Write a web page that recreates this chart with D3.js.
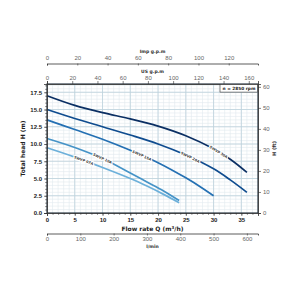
<!DOCTYPE html>
<html><head><meta charset="utf-8">
<script src="https://cdn.jsdelivr.net/npm/d3@7"></script>
<style>
body{margin:0;background:#fff}
svg{display:block;font-family:"DejaVu Sans",sans-serif}
</style></head>
<body><svg id="c" width="300" height="300"></svg>
<script>
// ---- data ----
const seriesNames = ["SWVP 30A","SWVP 20A","SWVP 15A","SWVP 10A","SWVP 07A"];
const seriesColors = ["#0b2f63","#0f4c8f","#2470b3","#4593c7","#6cb0da"];
const q30A = [0,5,10,15,20,25,30,33,36];
const h30A = [17.0,15.6,14.55,13.65,12.6,11.2,9.3,7.8,5.9];
const q20A = [0,5,10,15,20,25,30,33,36];
const h20A = [15.0,13.7,12.5,11.3,10.0,8.4,6.4,4.8,3.0];
const q15A = [0,5,10,15,20,25,28,30];
const h15A = [13.5,12.1,10.7,9.1,7.3,5.1,3.6,2.5];
const q10A = [0,5,10,15,18,21,23.8];
const h10A = [10.8,9.5,7.9,5.8,4.5,3.2,1.8];
const q07A = [0,5,10,15,18,21,23.8];
const h07A = [9.45,8.1,6.6,5.0,3.9,2.7,1.5];
const labelQ = [30.9,25.8,17.1,10.0,6.6];
const flowTicks = [0,5,10,15,20,25,30,35];
const headTicks = [0,2.5,5,7.5,10,12.5,15,17.5];
const ftTicks = [0,10,20,30,40,50,60];
const usGpmTicks = [0,20,40,60,80,100,120,140,160];
const impGpmTicks = [0,20,40,60,80,100,120];
const lminTicks = [0,100,200,300,400,500,600];
const rpmText = "n = 2850 rpm";

// ---- layout ----
const svg = d3.select("#c");
const L=47,R=258,T=84,B=213;
const qMax=38,hMax=18.7;
const US=4.40287, IMP=3.66615, LMIN=16.6667, FT=3.28084;
const x = d3.scaleLinear().domain([0,qMax]).range([L,R]);
const y = d3.scaleLinear().domain([0,hMax]).range([B,T]);
const yFt = d3.scaleLinear().domain([0,hMax*FT]).range([B,T]);
const xUS = d3.scaleLinear().domain([0,qMax*US]).range([L,R]);
const xImp = d3.scaleLinear().domain([0,qMax*IMP]).range([L,R]);
const xL = d3.scaleLinear().domain([0,qMax*LMIN]).range([L,R]);

// grid
const g = svg.append("g");
g.selectAll("line.vm").data(d3.range(1,qMax+0.01,1)).join("line")
  .attr("x1",d=>x(d)).attr("x2",d=>x(d)).attr("y1",T).attr("y2",B)
  .attr("stroke","#e0eaef").attr("stroke-width",0.6);
g.selectAll("line.hm").data(d3.range(0.5,hMax,0.5)).join("line")
  .attr("y1",d=>y(d)).attr("y2",d=>y(d)).attr("x1",L).attr("x2",R)
  .attr("stroke","#e0eaef").attr("stroke-width",0.6);
g.selectAll("line.vM").data(flowTicks.slice(1)).join("line")
  .attr("x1",d=>x(d)).attr("x2",d=>x(d)).attr("y1",T).attr("y2",B)
  .attr("stroke","#bcd2dc").attr("stroke-width",0.8);
g.selectAll("line.hM").data(headTicks.slice(1)).join("line")
  .attr("y1",d=>y(d)).attr("y2",d=>y(d)).attr("x1",L).attr("x2",R)
  .attr("stroke","#bcd2dc").attr("stroke-width",0.8);

// curves
const qs=[q30A,q20A,q15A,q10A,q07A], hs=[h30A,h20A,h15A,h10A,h07A];
const line = d3.line().x(d=>x(d[0])).y(d=>y(d[1])).curve(d3.curveCatmullRom.alpha(0.5));
const series = seriesNames.map((n,i)=>({name:n,color:seriesColors[i],pts:qs[i].map((q,j)=>[q,hs[i][j]]),lq:labelQ[i]}));
svg.append("g").selectAll("path").data(series).join("path")
  .attr("d",d=>line(d.pts)).attr("fill","none")
  .attr("stroke",d=>d.color).attr("stroke-width",1.7);

// inline labels
function interp(pts,q){for(let j=1;j<pts.length;j++){if(q<=pts[j][0]){const t=(q-pts[j-1][0])/(pts[j][0]-pts[j-1][0]);return pts[j-1][1]+t*(pts[j][1]-pts[j-1][1]);}}return pts[pts.length-1][1];}
svg.append("g").selectAll("text").data(series).join("text")
  .attr("transform",d=>{const px=x(d.lq),py=y(interp(d.pts,d.lq));
     const a=Math.atan2(y(interp(d.pts,d.lq+0.8))-y(interp(d.pts,d.lq-0.8)),x(d.lq+0.8)-x(d.lq-0.8))*180/Math.PI;
     return `translate(${px},${py}) rotate(${a})`;})
  .attr("text-anchor","middle").attr("dy","0.35em")
  .attr("font-size",3.5).attr("font-weight","bold").attr("fill","#3a3a3a")
  .attr("stroke","#fff").attr("stroke-width",2.2).attr("paint-order","stroke")
  .text(d=>d.name);

// frame
svg.append("rect").attr("x",L).attr("y",T).attr("width",R-L).attr("height",B-T)
  .attr("fill","none").attr("stroke","#1c2a38").attr("stroke-width",1.1);

// axes
const fmt1 = d3.format(".1f");
const bottom = svg.append("g").attr("transform",`translate(0,${B})`)
  .call(d3.axisBottom(x).tickValues(flowTicks).tickSize(3).tickPadding(2));
bottom.selectAll("text").attr("font-size",6).attr("font-weight","bold").attr("fill","#222");
svg.append("g").attr("transform",`translate(0,${B})`)
  .call(d3.axisBottom(x).tickValues(d3.range(0,qMax+0.01,1)).tickSize(1.8).tickFormat(""))
  .call(s=>s.select(".domain").remove());
const left = svg.append("g").attr("transform",`translate(${L},0)`)
  .call(d3.axisLeft(y).tickValues(headTicks).tickFormat(fmt1).tickSize(3).tickPadding(2));
left.selectAll("text").attr("font-size",6).attr("font-weight","bold").attr("fill","#222");
svg.append("g").attr("transform",`translate(${L},0)`)
  .call(d3.axisLeft(y).tickValues(d3.range(0,hMax,0.5)).tickSize(1.8).tickFormat(""))
  .call(s=>s.select(".domain").remove());
const right = svg.append("g").attr("transform",`translate(${R},0)`)
  .call(d3.axisRight(yFt).tickValues(ftTicks).tickSize(3).tickPadding(2));
right.selectAll("text").attr("font-size",6).attr("fill","#666");
const top1 = svg.append("g").attr("transform",`translate(0,${T})`)
  .call(d3.axisTop(xUS).tickValues(usGpmTicks).tickSize(3).tickPadding(1.5));
top1.selectAll("text").attr("font-size",6).attr("fill","#666");
const top2 = svg.append("g").attr("transform",`translate(0,63.5)`)
  .call(d3.axisTop(xImp).tickValues(impGpmTicks).tickSize(-2).tickPadding(4));
top2.selectAll("text").attr("font-size",6).attr("fill","#666");
const bot2 = svg.append("g").attr("transform",`translate(0,233.5)`)
  .call(d3.axisBottom(xL).tickValues(lminTicks).tickSize(2).tickPadding(1.5));
bot2.selectAll("text").attr("font-size",6).attr("fill","#666");
svg.selectAll(".domain").attr("stroke","#333").attr("stroke-width",0.8);
svg.selectAll(".tick line").attr("stroke","#333").attr("stroke-width",0.6);

// titles
const cx=(L+R)/2;
svg.append("text").attr("x",cx).attr("y",231).attr("text-anchor","middle")
  .attr("font-size",6).attr("font-weight","bold").attr("fill","#222")
  .html('Flow rate  Q  (m<tspan dy="-2" font-size="4">3</tspan><tspan dy="2">/h)</tspan>');
svg.append("text").attr("x",cx).attr("y",248).attr("text-anchor","middle")
  .attr("font-size",4.5).attr("font-weight","bold").attr("fill","#333").text("l/min");
svg.append("text").attr("x",cx).attr("y",73).attr("text-anchor","middle")
  .attr("font-size",4.5).attr("font-weight","bold").attr("fill","#333").text("US g.p.m");
svg.append("text").attr("x",cx).attr("y",53).attr("text-anchor","middle")
  .attr("font-size",4.5).attr("font-weight","bold").attr("fill","#333").text("Imp g.p.m");
svg.append("text").attr("transform",`translate(25,${(T+B)/2}) rotate(-90)`).attr("text-anchor","middle")
  .attr("font-size",6).attr("font-weight","bold").attr("fill","#222").text("Total head  H  (m)");
svg.append("text").attr("transform",`translate(276,${(T+B)/2}) rotate(-90)`).attr("text-anchor","middle")
  .attr("font-size",5).attr("font-weight","bold").attr("fill","#333").text("H  (ft)");

// rpm box
svg.append("rect").attr("x",220).attr("y",T+0.6).attr("width",R-220-0.6).attr("height",7.5)
  .attr("fill","#fff").attr("stroke","#333").attr("stroke-width",0.6);
svg.append("text").attr("x",(220+R)/2).attr("y",T+5.8).attr("text-anchor","middle")
  .attr("font-size",4.3).attr("font-weight","bold").attr("fill","#222").text(rpmText);
</script></body></html>
